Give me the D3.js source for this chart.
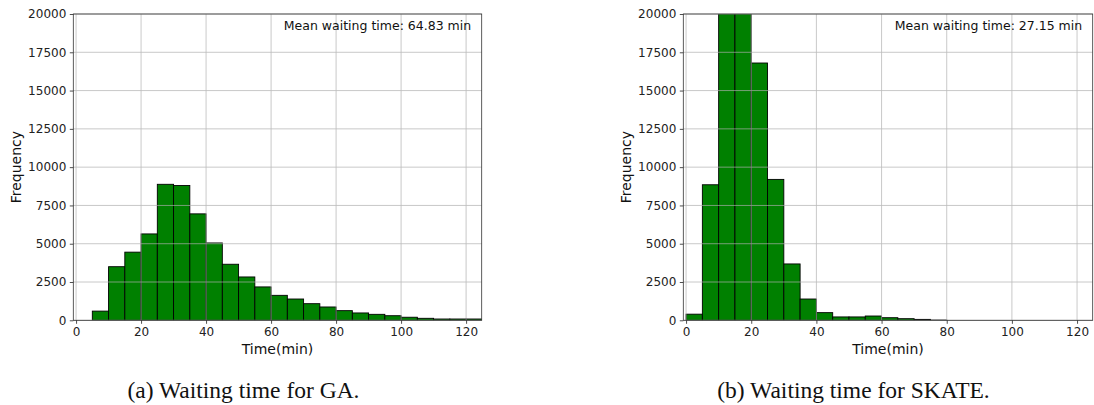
<!DOCTYPE html>
<html><head><meta charset="utf-8">
<script src="https://cdn.jsdelivr.net/npm/d3@7"></script>
<style>body{margin:0;background:#fff}svg{display:block}</style>
</head><body>
<svg id="chart" width="1094" height="405"></svg>
<script>
const binStarts = [0,5,10,15,20,25,30,35,40,45,50,55,60,65,70,75,80,85,90,95,100,105,110,115,120];
const binWidth = 5;
const gaCounts = [0,600,3500,4450,5640,8880,8800,6950,5050,3660,2830,2180,1630,1390,1085,870,630,480,390,300,200,130,85,85,85];
const skateCounts = [400,8850,24500,23000,16800,9200,3680,1390,500,220,220,280,170,105,60,15,0,0,0,0,0,0,0,0,0];
const meanTexts = ["Mean waiting time: 64.83 min","Mean waiting time: 27.15 min"];
const captions = ["(a) Waiting time for GA.","(b) Waiting time for SKATE."];
const xTicks = [0,20,40,60,80,100,120];
const yTicks = [0,2500,5000,7500,10000,12500,15000,17500,20000];
const xLabel = "Time(min)";
const yLabel = "Frequency";

const svg = d3.select("#chart");
const panels = [
  {left:73.3, right:481.7, counts:gaCounts, mean:meanTexts[0], cap:captions[0], capX:243.5},
  {left:683.3, right:1092.7, counts:skateCounts, mean:meanTexts[1], cap:captions[1], capX:853.5}
];
const plotTop = 14, plotBottom = 320.3;
const font = "DejaVu Sans, sans-serif";

panels.forEach((p,i)=>{
  const x = d3.scaleLinear().domain([-0.85,124.8]).range([p.left,p.right]);
  const y = d3.scaleLinear().domain([0,20000]).range([plotBottom,plotTop]);
  const g = svg.append("g");
  g.append("clipPath").attr("id","clip"+i).append("rect")
    .attr("x",p.left).attr("y",plotTop).attr("width",p.right-p.left).attr("height",plotBottom-plotTop);
  g.append("g").attr("clip-path",`url(#clip${i})`).selectAll("rect")
    .data(binStarts.map((s,k)=>({s,c:p.counts[k]})).filter(d=>d.c>0))
    .join("rect")
    .attr("x",d=>x(d.s)).attr("width",d=>x(d.s+binWidth)-x(d.s))
    .attr("y",d=>y(d.c)).attr("height",d=>y(0)-y(d.c))
    .attr("fill","#008000").attr("stroke","#000").attr("stroke-width",0.9);
  const grid = g.append("g").attr("stroke","#b0b0b0").attr("stroke-width",0.8).attr("opacity",0.85);
  xTicks.forEach(t=>grid.append("line").attr("x1",x(t)).attr("x2",x(t)).attr("y1",plotTop).attr("y2",plotBottom));
  yTicks.forEach(t=>grid.append("line").attr("x1",p.left).attr("x2",p.right).attr("y1",y(t)).attr("y2",y(t)));
  const xa = g.append("g").attr("transform",`translate(0,${plotBottom})`)
    .call(d3.axisBottom(x).tickValues(xTicks).tickSize(3.5).tickPadding(3.5));
  const ya = g.append("g").attr("transform",`translate(${p.left},0)`)
    .call(d3.axisLeft(y).tickValues(yTicks).tickSize(3.5).tickPadding(3.5).tickFormat(d3.format("d")));
  [xa,ya].forEach(a=>{
    a.select(".domain").remove();
    a.selectAll("text").attr("font-family",font).attr("font-size",12).attr("fill","#222");
    a.selectAll("line").attr("stroke","#222").attr("stroke-width",0.8);
  });
  g.append("rect").attr("x",p.left).attr("y",plotTop).attr("width",p.right-p.left).attr("height",plotBottom-plotTop)
    .attr("fill","none").attr("stroke","#333").attr("stroke-width",0.8);
  g.append("text").attr("x",(p.left+p.right)/2).attr("y",353.5).attr("text-anchor","middle")
    .attr("font-family",font).attr("font-size",14).attr("fill","#111").text(xLabel);
  g.append("text").attr("transform",`translate(${p.left-52.5},${(plotTop+plotBottom)/2}) rotate(-90)`)
    .attr("text-anchor","middle").attr("font-family",font).attr("font-size",14).attr("fill","#111").text(yLabel);
  g.append("text").attr("x",p.right-10.5).attr("y",30).attr("text-anchor","end")
    .attr("font-family",font).attr("font-size",12.5).attr("fill","#111").text(p.mean);
  g.append("text").attr("x",p.capX).attr("y",397.5).attr("text-anchor","middle")
    .attr("font-family","Liberation Serif, Times New Roman, serif").attr("font-size",23.5).attr("fill","#111").text(p.cap);
});
</script>
</body></html>
